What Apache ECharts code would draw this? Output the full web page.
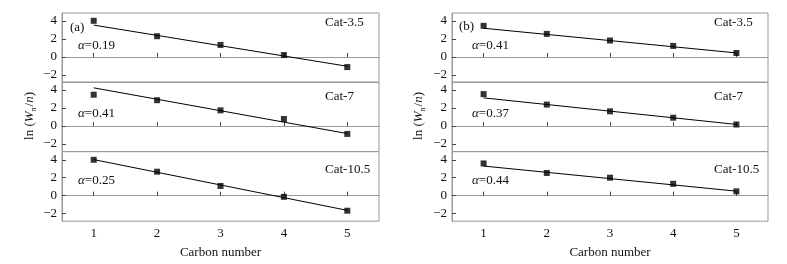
<!DOCTYPE html>
<html><head><meta charset="utf-8">
<script src="https://cdn.jsdelivr.net/npm/echarts@6/dist/echarts.min.js"></script>
<style>html,body{margin:0;padding:0;background:#fff}#c{width:787px;height:264px}</style>
</head><body><div id="c"></div>
<script>
// ---- data ----
var carbon = [1, 2, 3, 4, 5];
var xTicks = [1, 2, 3, 4, 5];
var yTicks = [-2, 0, 2, 4];
var catNames = ['Cat-3.5', 'Cat-7', 'Cat-10.5'];
// panel (a)
var a_cat35 = [4.03, 2.31, 1.34, 0.21, -1.13];
var a_cat7 = [3.48, 2.87, 1.74, 0.77, -0.89];
var a_cat105 = [4.00, 2.67, 1.08, -0.13, -1.68];
var a_fit35 = [3.55, -1.04];
var a_fit7 = [4.25, -0.85];
var a_fit105 = [4.02, -1.64];
var a_alpha = ['0.19', '0.41', '0.25'];
// panel (b)
var b_cat35 = [3.47, 2.57, 1.83, 1.23, 0.44];
var b_cat7 = [3.55, 2.38, 1.63, 0.92, 0.16];
var b_cat105 = [3.59, 2.53, 2.00, 1.32, 0.48];
var b_fit35 = [3.20, 0.45];
var b_fit7 = [3.13, 0.17];
var b_fit105 = [3.30, 0.50];
var b_alpha = ['0.41', '0.37', '0.44'];
var fitX = [1, 5];

// ---- layout ----
var FONT = '"Liberation Serif","Times New Roman",serif';
var panels = [
  {left: 62, width: 317, tag: '(a)', tagX: 70, tagY: 28, alphaX: 78, catX: 325,
   pts: [a_cat35, a_cat7, a_cat105], fits: [a_fit35, a_fit7, a_fit105], alpha: a_alpha, ylabX: 30},
  {left: 452, width: 316, tag: '(b)', tagX: 459, tagY: 27, alphaX: 472, catX: 714,
   pts: [b_cat35, b_cat7, b_cat105], fits: [b_fit35, b_fit7, b_fit105], alpha: b_alpha, ylabX: 419}
];
var tops = [13, 82, 151.7];
var h = 69.5;
var catY = [23, 97, 169.5];
var alphaY = [46, 114, 181];

var grids = [], xAxes = [], yAxes = [], series = [], graphics = [];
var gi = 0;
panels.forEach(function (p, pi) {
  for (var r = 0; r < 3; r++) {
    grids.push({left: p.left, top: tops[r], width: p.width, height: h, show: true,
      borderColor: '#999', borderWidth: 1, backgroundColor: 'transparent'});
    xAxes.push({type: 'value', gridIndex: gi, min: 0.5, max: 5.5,
      axisLine: {show: true, lineStyle: {color: '#999'}},
      axisTick: {show: true, inside: true, length: 4, customValues: xTicks, lineStyle: {color: '#444'}},
      axisLabel: {show: r === 2, customValues: xTicks, margin: 6, color: '#111', fontFamily: FONT, fontSize: 13},
      splitLine: {show: false},
      name: r === 2 ? 'Carbon number' : '', nameLocation: 'middle', nameGap: 25,
      nameTextStyle: {color: '#111', fontFamily: FONT, fontSize: 13}
    });
    yAxes.push({type: 'value', gridIndex: gi, min: -2.85, max: 4.9,
      axisLine: {show: true, lineStyle: {color: '#999'}},
      axisTick: {show: true, inside: true, length: 4, customValues: yTicks, lineStyle: {color: '#444'}},
      axisLabel: {show: true, customValues: yTicks, margin: 5, color: '#111', fontFamily: FONT, fontSize: 13,
        formatter: function (v) { return String(v).replace('-', '\u2212'); }},
      splitLine: {show: false}
    });
    series.push({type: 'line', xAxisIndex: gi, yAxisIndex: gi, symbol: 'none', silent: true,
      lineStyle: {color: '#000', width: 1},
      data: fitX.map(function (x, i) { return [x, p.fits[r][i]]; })});
    series.push({type: 'scatter', xAxisIndex: gi, yAxisIndex: gi, symbol: 'rect', symbolSize: 6,
      itemStyle: {color: '#000'},
      data: carbon.map(function (x, i) { return [x, p.pts[r][i]]; })});
    graphics.push({type: 'text', x: p.catX, y: catY[r], style: {text: catNames[r], fill: '#111',
      font: '13px ' + FONT, textVerticalAlign: 'middle'}});
    graphics.push({type: 'text', x: p.alphaX, y: alphaY[r], style: {
      text: '{i|\u03b1}{n|=' + p.alpha[r] + '}', textVerticalAlign: 'middle',
      rich: {i: {fontStyle: 'italic', fontFamily: FONT, fontSize: 13, fill: '#111'},
             n: {fontFamily: FONT, fontSize: 13, fill: '#111'}}}});
    gi++;
  }
  graphics.push({type: 'text', x: p.tagX, y: p.tagY, style: {text: p.tag, fill: '#111',
    font: '13px ' + FONT, textVerticalAlign: 'middle'}});
  graphics.push({type: 'text', x: p.ylabX, y: 116, rotation: Math.PI / 2, style: {
    text: '{n|ln (}{i|W}{s|n}{n|/}{i|n}{n|)}', textAlign: 'center', textVerticalAlign: 'middle',
    rich: {n: {fontFamily: FONT, fontSize: 13, fill: '#111', lineHeight: 16, verticalAlign: 'middle'},
           i: {fontFamily: FONT, fontSize: 13, fontStyle: 'italic', fill: '#111', lineHeight: 16, verticalAlign: 'middle'},
           s: {fontFamily: FONT, fontSize: 8, fontStyle: 'italic', fill: '#111', lineHeight: 16, verticalAlign: 'bottom', padding: [6, 1, 0, 0]}}}});
});

var chart = echarts.init(document.getElementById('c'), null, {renderer: 'canvas'});
chart.setOption({
  animation: false,
  backgroundColor: '#fff',
  grid: grids, xAxis: xAxes, yAxis: yAxes, series: series, graphic: graphics
});
</script></body></html>
